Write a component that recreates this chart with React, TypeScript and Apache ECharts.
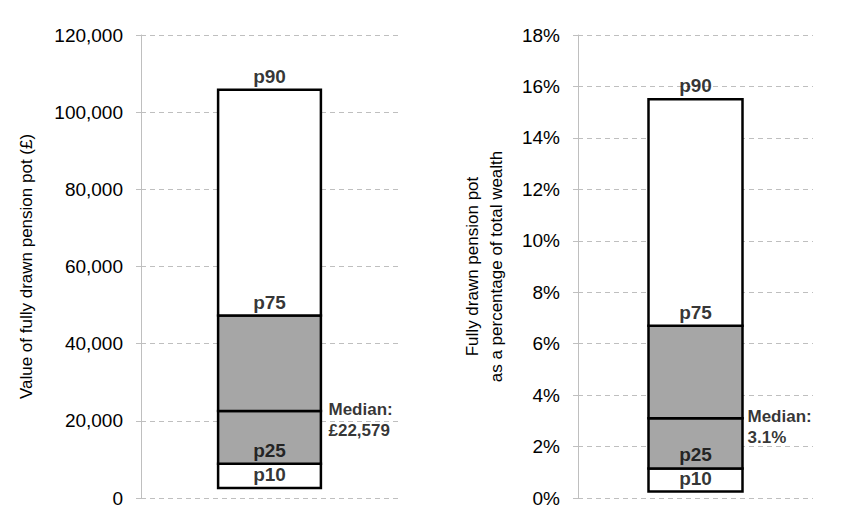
import React, { useRef, useEffect } from 'react';
import * as echarts from 'echarts';

// percentiles: p10, p25, median, p75, p90
const potValues = [2600, 8900, 22579, 47300, 105800];
const shareValues = [0.25, 1.15, 3.1, 6.7, 15.5];
const percentileNames = ['p10', 'p25', 'p75', 'p90'];
const potMedianLabel = 'Median:\n£22,579';
const shareMedianLabel = 'Median:\n3.1%';
const potAxisName = 'Value of fully drawn pension pot (£)';
const shareAxisName = 'Fully drawn pension pot\nas a percentage of total wealth';

const FONT = '"Liberation Sans", Arial, sans-serif';
const GREY = '#a6a6a6';
// fill of each box between two neighbouring percentiles
const segFills = ['#ffffff', GREY, GREY, '#ffffff'];

function buildSeries(vals: number[], idx: number, medianLabel: string, medianDist: number) {
  const boxes = {
    type: 'custom',
    xAxisIndex: idx,
    yAxisIndex: idx,
    silent: true,
    data: vals.slice(1).map((v, i) => [0, vals[i], v, i]),
    renderItem: (params: any, api: any) => {
      const lo = api.coord([api.value(0), api.value(1)]);
      const hi = api.coord([api.value(0), api.value(2)]);
      const w = api.size([1, 0])[0] * 0.4;
      return {
        type: 'rect',
        shape: { x: lo[0] - w / 2, y: hi[1], width: w, height: lo[1] - hi[1] },
        style: { fill: segFills[api.value(3)], stroke: '#000', lineWidth: 2.5 },
      };
    },
    z: 2,
  };
  const pts = [vals[0], vals[1], vals[3], vals[4]];
  const labels = {
    type: 'scatter',
    xAxisIndex: idx,
    yAxisIndex: idx,
    symbolSize: 0,
    itemStyle: { color: 'transparent' },
    data: pts.map((v, i) => ({ value: [0, v], name: percentileNames[i] })),
    label: {
      show: true,
      position: 'top',
      distance: 4,
      formatter: (p: any) => p.name,
      color: '#000',
      fontFamily: FONT,
      fontWeight: 'bold',
      fontSize: 19,
    },
    z: 10,
  };
  const median = {
    type: 'scatter',
    xAxisIndex: idx,
    yAxisIndex: idx,
    symbolSize: 0,
    itemStyle: { color: 'transparent' },
    data: [[0, vals[2]]],
    label: {
      show: true,
      position: 'right',
      distance: medianDist,
      verticalAlign: 'top',
      align: 'left',
      offset: [0, -12],
      formatter: medianLabel,
      color: '#000',
      fontFamily: FONT,
      fontWeight: 'bold',
      fontSize: 17,
      lineHeight: 21,
    },
    z: 10,
  };
  return [boxes, labels, median];
}

function valueAxis(idx: number, max: number, interval: number, fmt: (v: number) => string, name: string, gap: number) {
  return {
    type: 'value',
    gridIndex: idx,
    min: 0,
    max,
    interval,
    name,
    nameLocation: 'middle',
    nameGap: gap,
    nameTextStyle: { color: '#000', fontFamily: FONT, fontSize: 17, lineHeight: 24 },
    axisLine: { show: true, lineStyle: { color: '#bfbfbf', width: 1 } },
    axisTick: { show: true, length: 5, lineStyle: { color: '#bfbfbf' } },
    axisLabel: { color: '#000', fontFamily: FONT, fontSize: 19, margin: 18, formatter: fmt },
    splitLine: { show: true, lineStyle: { color: '#bfbfbf', type: [5, 4], width: 1 } },
  };
}

export default function App() {
  const chartRef = useRef<HTMLDivElement>(null);

  useEffect(() => {
    if (!chartRef.current) return;
    document.body.style.margin = '0';
    const chart = echarts.init(chartRef.current, undefined, { renderer: 'svg' });

    const option = {
      animation: false,
      backgroundColor: '#fff',
      grid: [
        { left: 141, right: 450, top: 35, bottom: 29 },
        { left: 578, right: 35, top: 35, bottom: 29 },
      ],
      xAxis: [0, 1].map((i) => ({ type: 'category', gridIndex: i, data: [''], show: false })),
      yAxis: [
        valueAxis(0, 120000, 20000, (v) => v.toLocaleString('en-GB'), potAxisName, 103),
        valueAxis(1, 18, 2, (v) => v + '%', shareAxisName, 70),
      ],
      series: [
        ...buildSeries(potValues, 0, potMedianLabel, 59),
        ...buildSeries(shareValues, 1, shareMedianLabel, 52),
      ],
    };

    chart.setOption(option as any);
    return () => chart.dispose();
  }, []);

  return <div ref={chartRef} style={{ width: 848, height: 527 }} />;
}
